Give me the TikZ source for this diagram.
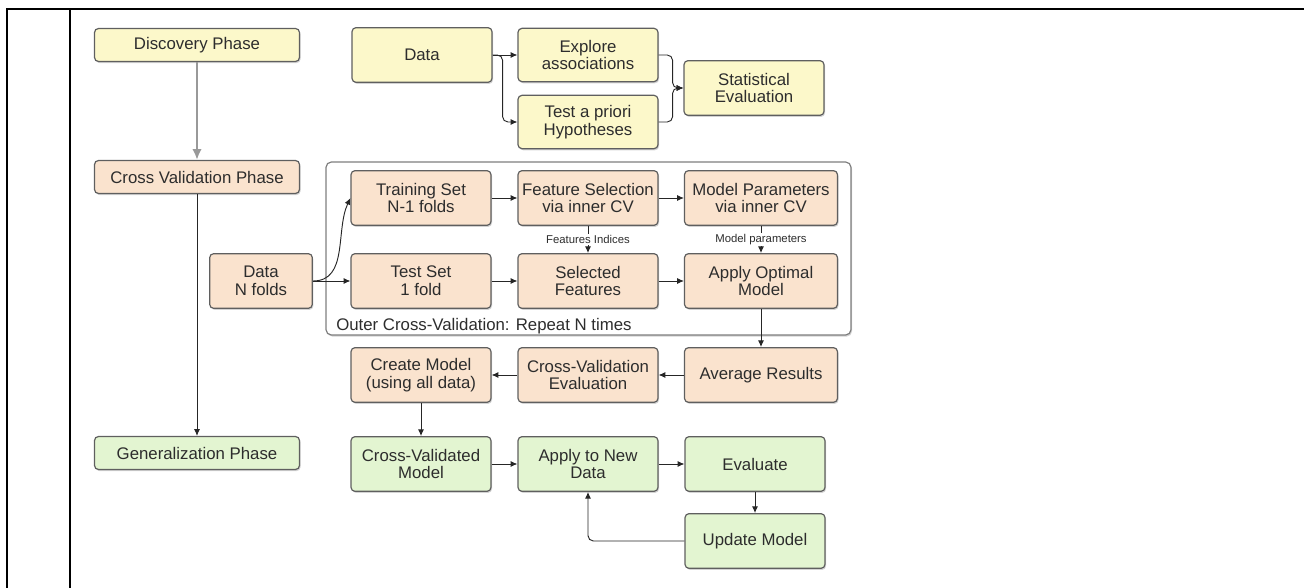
\documentclass[tikz,border=0pt]{standalone}
\usepackage{fontspec}
\setmainfont{Liberation Sans}
\usetikzlibrary{arrows.meta,shadows}
\definecolor{yelbox}{RGB}{252,248,202}
\definecolor{orgbox}{RGB}{250,227,206}
\definecolor{grnbox}{RGB}{227,245,209}
\definecolor{boxline}{RGB}{95,95,95}
\definecolor{txtgray}{RGB}{45,45,45}

\begin{document}
\begin{tikzpicture}[x=0.75pt,y=-0.75pt,
    box/.style={draw=boxline,line width=0.9pt,rounded corners=3pt,align=center,
      text=txtgray,font=\fontsize{12.6}{13.2}\selectfont,inner sep=2pt,
      drop shadow={shadow xshift=0.8pt,shadow yshift=-1.2pt,opacity=0.35}},
    ybox/.style={box,fill=yelbox},
    obox/.style={box,fill=orgbox},
    gbox/.style={box,fill=grnbox},
    wide/.style={minimum width=153.75pt,minimum height=24.75pt},
    cell/.style={minimum width=105pt,minimum height=41pt},
    arr/.style={-{Latex[length=5pt,width=4.5pt]},line width=0.7pt,black!85},
    lab/.style={font=\fontsize{8.5}{9}\selectfont,fill=white,inner sep=1pt,text=txtgray}]
    \useasboundingbox (0,0) rectangle (1304,588);
    \draw[line width=1.5pt] (7,588) -- (7,9) -- (1304,9);
    \draw[line width=1.5pt] (70,9) -- (70,588);
    % phases
    \node[ybox,wide] (disc) at (197,45) {Discovery Phase};
    \node[obox,wide] (cvp) at (197,177) {Cross Validation Phase};
    \node[gbox,wide] (gen) at (197,453) {Generalization Phase};
    % discovery
    \node[ybox,cell] (data) at (422,55) {Data};
    \node[ybox,cell,minimum height=40pt] (explore) at (588,55) {Explore\\associations};
    \node[ybox,cell,minimum height=40pt] (apriori) at (588,122) {Test a priori\\Hypotheses};
    \node[ybox,cell] (stat) at (754,88) {Statistical\\Evaluation};
    % cross validation
    \node[draw=boxline!80,line width=0.9pt,rounded corners=4pt,fill=white,
      drop shadow={shadow xshift=0.8pt,shadow yshift=-1.2pt,opacity=0.35},
      minimum width=393.75pt,minimum height=129.75pt] (outer) at (588.5,248.5) {};
    \node[anchor=base west,inner sep=0pt,text=txtgray,font=\fontsize{12.6}{13.2}\selectfont]
      (outerlab) at (336,330) {Outer Cross-Validation: Repeat N times};
    \node[obox,minimum width=77pt,minimum height=41pt] (folds) at (261,281) {Data\\N folds};
    \node[obox,cell] (train) at (421,198) {Training Set\\N-1 folds};
    \node[obox,cell] (featsel) at (588,198) {Feature Selection\\via inner CV};
    \node[obox,cell,minimum width=114.75pt] (modpar) at (761,198) {Model Parameters\\via inner CV};
    \node[obox,cell] (testset) at (421,281) {Test Set\\1 fold};
    \node[obox,cell] (selfeat) at (588,281) {Selected\\Features};
    \node[obox,cell,minimum width=114.75pt] (applyopt) at (761,281) {Apply Optimal\\Model};
    \node[obox,cell] (create) at (421,375) {Create Model\\(using all data)};
    \node[obox,cell] (cveval) at (588,375) {Cross-Validation\\Evaluation};
    \node[obox,cell,minimum width=114.75pt] (avg) at (761,375) {Average Results};
    % generalization
    \node[gbox,cell] (cvmodel) at (421,464) {Cross-Validated\\Model};
    \node[gbox,cell] (newdata) at (588,464) {Apply to New\\Data};
    \node[gbox,cell] (evaluate) at (755,464) {Evaluate};
    \node[gbox,cell] (update) at (755,541) {Update Model};
    % connectors
    \draw[-{Latex[length=8pt,width=7pt]},line width=2pt,black!40] (disc) -- (cvp);
    \draw[arr] (cvp) -- (gen);
    \draw[arr] (data) -- (explore);
    \draw[arr,rounded corners=4pt] (data.east) -- ++(10,0) |- (apriori.west);
    \draw[arr,rounded corners=4pt] (explore.east) -- ++(14,0) |- (stat.west);
    \draw[arr,rounded corners=4pt] (apriori.east) -- ++(14,0) |- (stat.west);
    \draw[arr] (folds.east) to[out=0,in=245] (train.west);
    \draw[arr] (folds) -- (testset);
    \draw[arr] (train) -- (featsel);
    \draw[arr] (featsel) -- (modpar);
    \draw[arr] (testset) -- (selfeat);
    \draw[arr] (selfeat) -- (applyopt);
    \draw[arr] (featsel) -- node[lab]{Features Indices} (selfeat);
    \draw[arr] (modpar) -- node[lab]{Model parameters} (applyopt);
    \draw[arr] (applyopt) -- (avg);
    \draw[arr] (avg) -- (cveval);
    \draw[arr] (cveval) -- (create);
    \draw[arr] (create) -- (cvmodel);
    \draw[arr] (cvmodel) -- (newdata);
    \draw[arr] (newdata) -- (evaluate);
    \draw[arr] (evaluate) -- (update);
    \draw[arr,rounded corners=4pt] (update.west) -| (newdata.south);
\end{tikzpicture}
\end{document}
